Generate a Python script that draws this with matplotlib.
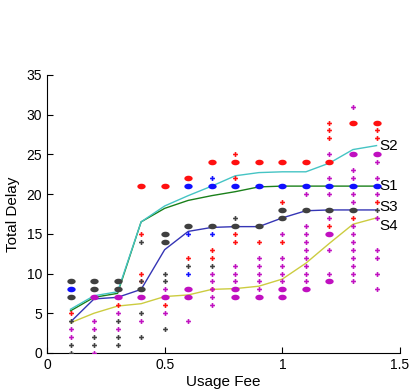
import numpy as np
import matplotlib
matplotlib.use("Agg")
import matplotlib.pyplot as plt
from matplotlib.path import Path

plt.rcParams['font.family'] = ['Liberation Sans', 'DejaVu Sans']

# usage fee grid shared by all curves
fee = [0.1, 0.2, 0.3, 0.4, 0.5, 0.6, 0.7, 0.8, 0.9, 1.0, 1.1, 1.2, 1.3, 1.4]

# mean curves
s1 = [5.3, 7.0, 7.5, 16.5, 18.2, 19.2, 19.8, 20.3, 20.9, 21, 21, 21, 21, 21]
s2 = [5.5, 7.2, 7.7, 16.5, 18.5, 19.8, 21.0, 22.3, 22.7, 22.8, 22.8, 23.9, 25.6, 26.1]
s3 = [3.9, 6.8, 7.0, 8.0, 13.0, 15.3, 15.8, 15.9, 15.9, 17.0, 17.9, 18, 18, 18]
s4 = [3.8, 5.0, 5.9, 6.2, 7.1, 7.3, 8.0, 8.1, 8.4, 9.3, 11.3, 13.8, 16.2, 17.0]

curve_names = ['S1', 'S2', 'S3', 'S4']
label_y = [21, 26.1, 18.4, 16.0]

# individual samples (x, y)
red_big_x = [0.4, 0.5, 0.6, 0.7, 0.8, 0.9, 1.0, 1.1, 1.2, 1.3, 1.4]
red_big_y = [21, 21, 22, 24, 24, 24, 24, 24, 24, 29, 29]
red_x = [0.1, 0.2, 0.3, 0.3, 0.4, 0.4, 0.4, 0.5, 0.5, 0.6, 0.7, 0.7, 0.7, 0.8, 0.8,
         0.8, 0.8, 0.9, 1.0, 1.0, 1.2, 1.2, 1.2, 1.2, 1.3, 1.4, 1.4, 1.4]
red_y = [5, 8, 9, 6, 15, 10, 9, 15, 6, 12, 13, 12, 8, 25, 22,
         15, 14, 14, 19, 14, 29, 28, 27, 16, 17, 28, 27, 19]

blue_big_x = [0.1, 0.6, 0.7, 0.8, 0.9, 1.0, 1.1, 1.2, 1.3, 1.4]
blue_big_y = [8, 21, 21, 21, 21, 21, 21, 21, 21, 21]
blue_x = [0.6, 0.6, 0.7, 0.7]
blue_y = [15, 10, 22, 15]

dark_big_x = [0.1, 0.1, 0.2, 0.2, 0.3, 0.3, 0.4, 0.5, 0.5, 0.6, 0.7, 0.8, 0.9,
              1.0, 1.0, 1.1, 1.2, 1.3]
dark_big_y = [9, 7, 9, 8, 9, 8, 8, 15, 14, 16, 16, 16, 16, 18, 17, 18, 18, 18]
dark_x = [0.1, 0.1, 0.1, 0.2, 0.2, 0.3, 0.3, 0.3, 0.4, 0.4, 0.4, 0.4, 0.5, 0.5,
          0.5, 0.6, 0.7, 0.8, 1.4]
dark_y = [4, 1, 0, 2, 1, 4, 2, 1, 14, 9, 5, 2, 10, 9, 3, 11, 11, 17, 18]

mag_big_x = [0.2, 0.3, 0.4, 0.5, 0.6, 0.6, 0.8, 0.8, 0.9, 1.0, 1.0, 1.1, 1.2,
             1.2, 1.3, 1.4]
mag_big_y = [7, 7, 7, 7, 8, 7, 8, 7, 7, 8, 7, 8, 15, 9, 25, 25]
mag_x = [0.1, 0.1, 0.2, 0.2, 0.2, 0.3, 0.3, 0.4, 0.5, 0.5, 0.6,
         0.7, 0.7, 0.7, 0.7, 0.7, 0.8, 0.8, 0.8,
         0.9, 0.9, 0.9, 0.9, 0.9, 1.0, 1.0, 1.0, 1.0, 1.0,
         1.1, 1.1, 1.1, 1.1, 1.1, 1.1, 1.1, 1.1, 1.1,
         1.2, 1.2, 1.2, 1.2, 1.2, 1.2,
         1.3, 1.3, 1.3, 1.3, 1.3, 1.3, 1.3, 1.3, 1.3, 1.3, 1.3, 1.3, 1.3,
         1.4, 1.4, 1.4, 1.4, 1.4, 1.4, 1.4, 1.4]
mag_y = [3, 2, 4, 3, 0, 5, 3, 4, 8, 5, 4,
         10, 9, 8, 7, 6, 11, 10, 9,
         12, 11, 10, 9, 8, 15, 12, 11, 10, 9,
         20, 16, 15, 14, 13, 12, 11, 10, 9,
         25, 22, 20, 17, 13, 10,
         31, 23, 22, 20, 19, 16, 15, 14, 13, 12, 11, 10, 9,
         24, 22, 20, 17, 13, 12, 10, 8]

# wide blob marker for stacked samples
theta = np.linspace(0, 2 * np.pi, 40)
blob = Path(np.column_stack([1.5 * np.cos(theta), np.sin(theta)]))

fig = plt.figure(figsize=(4.12, 3.9), dpi=100)
ax = fig.add_axes([0.114, 0.095, 0.857, 0.713])

line_colors = ['#1a801a', '#45c4c4', '#3535b5', '#cccc40']
for vals, c in zip([s1, s2, s3, s4], line_colors):
    ax.plot(fee, vals, color=c, lw=1.0, zorder=2)

groups = [
    (red_x, red_y, red_big_x, red_big_y, '#ff1010'),
    (blue_x, blue_y, blue_big_x, blue_big_y, '#1010ff'),
    (dark_x, dark_y, dark_big_x, dark_big_y, '#404040'),
    (mag_x, mag_y, mag_big_x, mag_big_y, '#c010c0'),
]
for xs, ys, bx, by, c in groups:
    ax.plot(xs, ys, ls='none', marker='P', ms=3.5, color=c, mew=0, zorder=3)
    ax.plot(bx, by, ls='none', marker=blob, ms=6, color=c, mew=0, zorder=3)

for name, yy in zip(curve_names, label_y):
    ax.text(1.41, yy, name, fontsize=11, ha='left', va='center', zorder=4)

ax.set_xlim(0, 1.5)
ax.set_ylim(0, 35)
ax.set_xticks([0, 0.5, 1, 1.5])
ax.set_xticklabels(['0', '0.5', '1', '1.5'])
ax.set_yticks(range(0, 36, 5))
ax.tick_params(direction='in', length=4, labelsize=10)
ax.spines['top'].set_visible(False)
ax.spines['right'].set_visible(False)
ax.set_xlabel('Usage Fee', fontsize=11, labelpad=2)
ax.set_ylabel('Total Delay', fontsize=11, labelpad=5)

fig.savefig('out.png', dpi=100)
